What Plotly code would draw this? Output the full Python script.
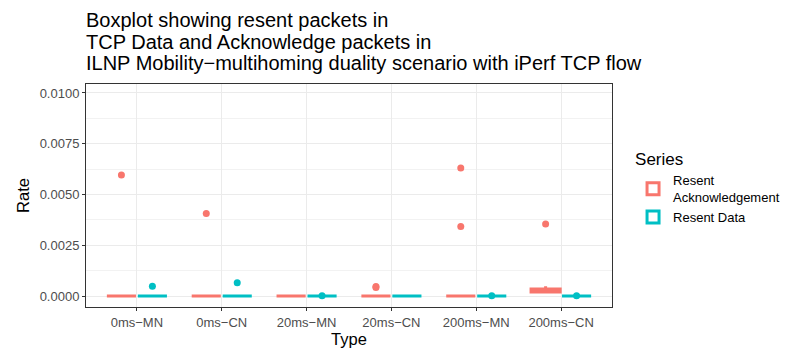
import plotly.graph_objects as go

categories = ["0ms\u2212MN", "0ms\u2212CN", "20ms\u2212MN", "20ms\u2212CN", "200ms\u2212MN", "200ms\u2212CN"]

# raw samples per category
ack_samples = [
    [0, 0, 0, 0, 0, 0, 0, 0, 0, 0, 0, 0, 0.00596],
    [0, 0, 0, 0, 0, 0, 0, 0, 0, 0, 0, 0, 0.00406],
    [0, 0, 0, 0, 0, 0, 0, 0, 0, 0, 0, 0, 0],
    [0, 0, 0, 0, 0, 0, 0, 0, 0, 0, 0, 0.00042, 0.00047],
    [0, 0, 0, 0, 0, 0, 0, 0, 0, 0, 0, 0.00342, 0.00630],
    [0.0002, 0.0002, 0.0002, 0.00025, 0.0003, 0.0003, 0.0003, 0.00048, 0.00355],
]
data_samples = [
    [0, 0, 0, 0, 0, 0, 0, 0, 0, 0, 0, 0, 0.00048],
    [0, 0, 0, 0, 0, 0, 0, 0, 0, 0, 0, 0, 0.00066],
    [0, 0, 0, 0, 0, 0, 0, 0, 0, 0, 0, 0, 0.00002],
    [0, 0, 0, 0, 0, 0, 0, 0, 0, 0, 0, 0, 0],
    [0, 0, 0, 0, 0, 0, 0, 0, 0, 0, 0, 0, 0.00002],
    [0, 0, 0, 0, 0, 0, 0, 0, 0, 0, 0, 0, 0.00002],
]
series_names = ["Resent<br>Acknowledgement", "Resent Data"]
series_colors = ["#F8766D", "#00BFC4"]
title_lines = [
    "Boxplot showing resent packets in",
    "TCP Data and Acknowledge packets in",
    "ILNP Mobility\u2212multihoming duality scenario with iPerf TCP flow",
]

fig = go.Figure()
for name, color, samples in zip(series_names, series_colors, [ack_samples, data_samples]):
    xs, ys = [], []
    for cat, vals in zip(categories, samples):
        xs += [cat] * len(vals)
        ys += vals
    fig.add_trace(go.Box(
        x=xs, y=ys, name=name,
        boxpoints="outliers", jitter=0, pointpos=0,
        fillcolor="white", whiskerwidth=0,
        line=dict(color=color, width=3),
        marker=dict(color=color, size=7, outliercolor=color,
                    line=dict(width=0)),
    ))

font = "Liberation Sans, Arial, sans-serif"
fig.update_layout(
    width=787, height=352,
    margin=dict(l=86, r=175, t=84, b=45, autoexpand=False),
    paper_bgcolor="white", plot_bgcolor="white",
    boxmode="group", boxgap=0.27, boxgroupgap=0.06,
    font=dict(family=font, color="black"),
    legend=dict(
        title=dict(text="Series", font=dict(size=17, family=font)),
        x=1.04, xanchor="left", y=0.535, yanchor="middle",
        font=dict(size=13, family=font, color="black"),
        tracegroupgap=0, itemwidth=30,
    ),
    showlegend=True,
)
for line, shift in zip(title_lines, [64, 42.5, 21]):
    fig.add_annotation(
        text=line, xref="paper", yref="paper", x=0, y=1,
        xanchor="left", yanchor="middle", align="left", showarrow=False,
        yshift=shift, xshift=-2,
        font=dict(size=20, family=font, color="black"),
    )
fig.update_xaxes(
    title=dict(text="Type", font=dict(size=16.5), standoff=3),
    categoryorder="array", categoryarray=categories,
    showgrid=True, gridcolor="#EBEBEB", gridwidth=1,
    ticks="outside", ticklen=3, tickcolor="#333333",
    tickfont=dict(size=13, color="#4D4D4D"),
    showline=True, linecolor="#333333", linewidth=1, mirror=True,
    range=[-0.6, 5.6],
)
fig.update_yaxes(
    title=dict(text="Rate", font=dict(size=16.5), standoff=5),
    range=[-0.00054, 0.01044],
    tickvals=[0, 0.0025, 0.005, 0.0075, 0.01],
    ticktext=["0.0000", "0.0025", "0.0050", "0.0075", "0.0100"],
    showgrid=True, gridcolor="#EBEBEB", gridwidth=1,
    minor=dict(tickvals=[0.00125, 0.00375, 0.00625, 0.00875], showgrid=True,
               gridcolor="#F2F2F2", gridwidth=1, ticks=""),
    zeroline=False,
    ticks="outside", ticklen=3, tickcolor="#333333",
    tickfont=dict(size=13, color="#4D4D4D"),
    showline=True, linecolor="#333333", linewidth=1, mirror=True,
)

fig.write_html("out.html")
